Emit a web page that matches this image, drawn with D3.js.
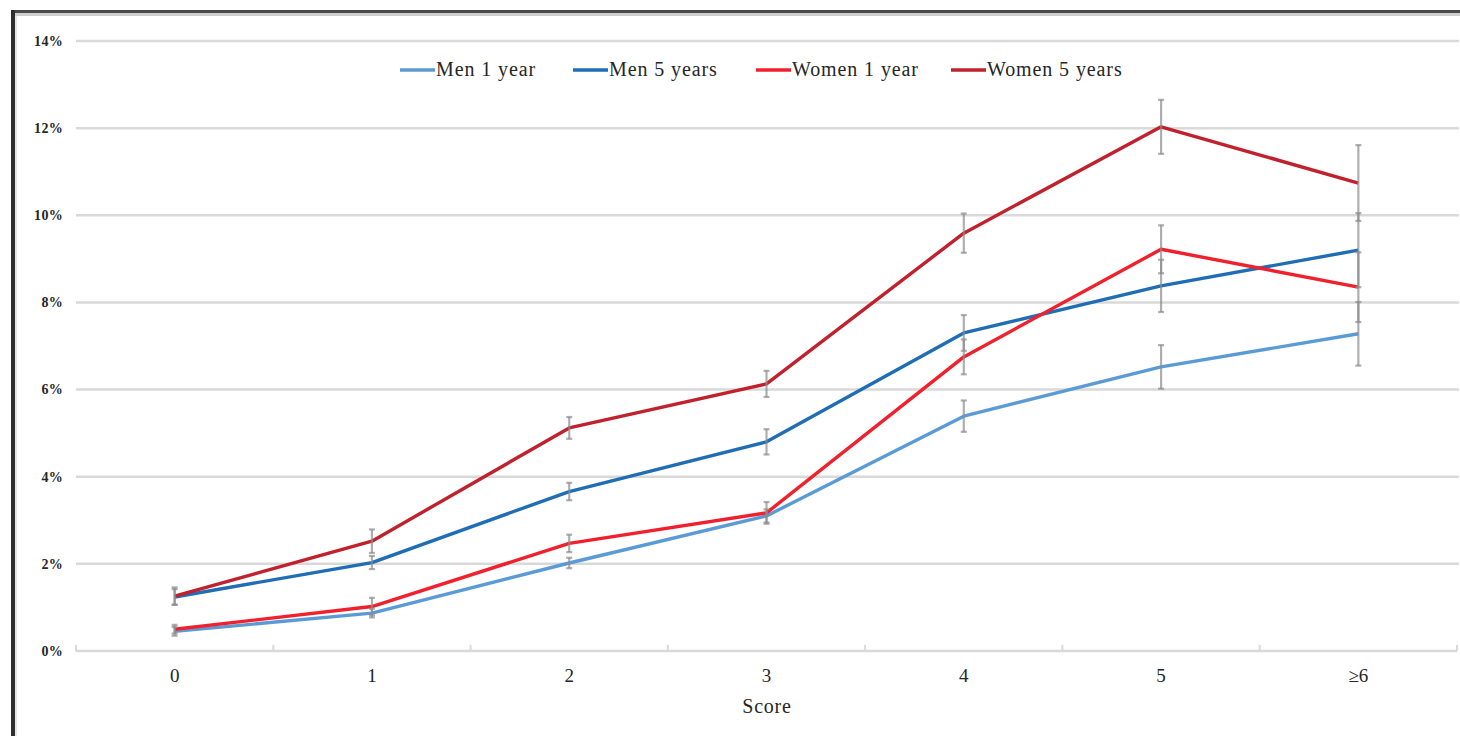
<!DOCTYPE html>
<html>
<head>
<meta charset="utf-8">
<script src="https://cdn.jsdelivr.net/npm/d3@7"></script>
<style>
  html, body { margin: 0; padding: 0; background: #fff; }
  svg { display: block; font-family: "Liberation Serif", "Times New Roman", serif; }
</style>
</head>
<body>
<div id="chart"></div>
<script>
// categories (score) and y ticks
const categories = ['0', '1', '2', '3', '4', '5', '≥6'];
const yTicks = [0, 2, 4, 6, 8, 10, 12, 14];

// series values in %, with half-width of the error bars
const men1Values = [0.45, 0.87, 2.02, 3.10, 5.39, 6.52, 7.28];
const men1Err    = [0.10, 0.10, 0.12, 0.15, 0.36, 0.50, 0.73];
const men5Values = [1.24, 2.03, 3.66, 4.80, 7.30, 8.38, 9.20];
const men5Err    = [0.18, 0.15, 0.20, 0.29, 0.41, 0.60, 0.85];
const women1Values = [0.50, 1.02, 2.47, 3.17, 6.75, 9.22, 8.35];
const women1Err    = [0.10, 0.20, 0.20, 0.25, 0.40, 0.55, 0.80];
const women5Values = [1.26, 2.52, 5.12, 6.13, 9.59, 12.03, 10.74];
const women5Err    = [0.20, 0.27, 0.25, 0.30, 0.45, 0.62, 0.87];

const seriesNames = ['Men 1 year', 'Men 5 years', 'Women 1 year', 'Women 5 years'];
const seriesColors = ['#5b9bd5', '#1f6db5', '#f0202c', '#c0212d'];

const series = [
  {name: seriesNames[0], color: seriesColors[0], values: men1Values, err: men1Err},
  {name: seriesNames[1], color: seriesColors[1], values: men5Values, err: men5Err},
  {name: seriesNames[2], color: seriesColors[2], values: women1Values, err: women1Err},
  {name: seriesNames[3], color: seriesColors[3], values: women5Values, err: women5Err}
];

const width = 1460;
const height = 736;

const svg = d3.select('#chart')
  .append('svg')
  .attr('width', width)
  .attr('height', height);

// frame (dark top/left edge with a light inner line)
svg.append('rect').attr('x', 11).attr('y', 10).attr('width', width - 11).attr('height', 3).attr('fill', '#4a4a4a');
svg.append('rect').attr('x', 11).attr('y', 13).attr('width', width - 11).attr('height', 3).attr('fill', '#cfcfcf');
svg.append('rect').attr('x', 11).attr('y', 10).attr('width', 4).attr('height', height - 10).attr('fill', '#2e2e2e');
svg.append('rect').attr('x', 15).attr('y', 16).attr('width', 2).attr('height', height - 16).attr('fill', '#e6e6e6');

const x = d3.scaleBand()
  .domain(categories)
  .range([76, 1457]);

const y = d3.scaleLinear()
  .domain([0, 14])
  .range([651, 41]);

// horizontal grid lines
svg.append('g')
  .selectAll('line')
  .data(yTicks.filter(d => d > 0))
  .join('line')
  .attr('x1', 76)
  .attr('x2', 1459)
  .attr('y1', d => y(d))
  .attr('y2', d => y(d))
  .attr('stroke', '#d9d9d9')
  .attr('stroke-width', 2.5);

// y axis labels
svg.append('g')
  .selectAll('text')
  .data(yTicks)
  .join('text')
  .attr('x', 63)
  .attr('y', d => y(d))
  .attr('dy', '0.35em')
  .attr('text-anchor', 'end')
  .attr('fill', '#262626')
  .style('font-size', '14px')
  .style('font-weight', 'bold')
  .style('letter-spacing', '0.3px')
  .text(d => d + '%');

// x axis line with ticks at category boundaries
const xAxis = svg.append('g');
xAxis.append('line')
  .attr('x1', 76)
  .attr('x2', 1457)
  .attr('y1', y(0))
  .attr('y2', y(0))
  .attr('stroke', '#d9d9d9')
  .attr('stroke-width', 2.5);

const boundaries = categories.map(c => x(c)).concat([x(categories[categories.length - 1]) + x.bandwidth()]);
xAxis.selectAll('.tick')
  .data(boundaries)
  .join('line')
  .attr('class', 'tick')
  .attr('x1', d => d)
  .attr('x2', d => d)
  .attr('y1', y(0) - 6)
  .attr('y2', y(0))
  .attr('stroke', '#d9d9d9')
  .attr('stroke-width', 2);

xAxis.selectAll('text')
  .data(categories)
  .join('text')
  .attr('x', d => x(d) + x.bandwidth() / 2)
  .attr('y', 682)
  .attr('text-anchor', 'middle')
  .attr('fill', '#262626')
  .style('font-size', '19px')
  .text(d => d);

svg.append('text')
  .attr('x', 767)
  .attr('y', 713)
  .attr('text-anchor', 'middle')
  .attr('fill', '#262626')
  .style('font-size', '20px')
  .style('letter-spacing', '0.8px')
  .text('Score');

// lines
const line = d3.line()
  .x((d, i) => x(categories[i]) + x.bandwidth() / 2)
  .y(d => y(d));

svg.append('g')
  .selectAll('path')
  .data(series)
  .join('path')
  .attr('d', d => line(d.values))
  .attr('fill', 'none')
  .attr('stroke', d => d.color)
  .attr('stroke-width', 3.4)
  .attr('stroke-linejoin', 'round');

// error bars
const errData = series.flatMap(s => s.values.map((v, i) => ({cat: categories[i], lo: v - s.err[i], hi: v + s.err[i]})));
const eb = svg.append('g')
  .attr('stroke', '#8c8c8c')
  .attr('stroke-opacity', 0.7)
  .attr('stroke-width', 2.2);

const ebItem = eb.selectAll('g')
  .data(errData)
  .join('g')
  .attr('transform', d => `translate(${x(d.cat) + x.bandwidth() / 2},0)`);

ebItem.append('line')
  .attr('y1', d => y(d.lo))
  .attr('y2', d => y(d.hi));
ebItem.append('line')
  .attr('x1', -3).attr('x2', 3)
  .attr('y1', d => y(d.lo)).attr('y2', d => y(d.lo));
ebItem.append('line')
  .attr('x1', -3).attr('x2', 3)
  .attr('y1', d => y(d.hi)).attr('y2', d => y(d.hi));

// legend
const legendX = [400, 573, 756, 951];
const legend = svg.append('g')
  .selectAll('g')
  .data(series)
  .join('g')
  .attr('transform', (d, i) => `translate(${legendX[i]},70)`);

legend.append('line')
  .attr('x1', 0)
  .attr('x2', 35)
  .attr('stroke', d => d.color)
  .attr('stroke-width', 3.4);

legend.append('text')
  .attr('x', 36)
  .attr('dy', '0.32em')
  .attr('fill', '#262626')
  .style('font-size', '20px')
  .style('letter-spacing', '0.9px')
  .text(d => d.name);
</script>
</body>
</html>
